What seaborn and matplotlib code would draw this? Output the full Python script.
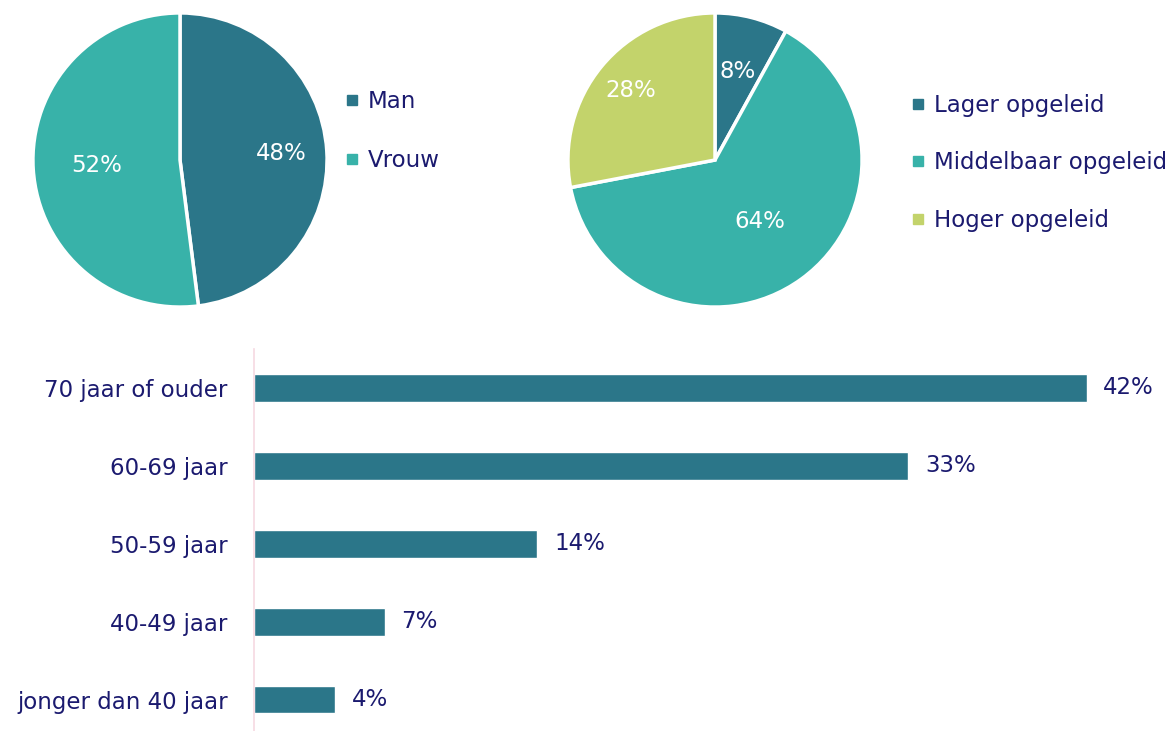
import numpy as np
import pandas as pd
import seaborn as sns
import matplotlib.pyplot as plt
from matplotlib.lines import Line2D

# data
gender_labels = ['Man', 'Vrouw']
gender_values = [48, 52]

edu_labels = ['Lager opgeleid', 'Middelbaar opgeleid', 'Hoger opgeleid']
edu_values = [8, 64, 28]

age_labels = ['70 jaar of ouder', '60-69 jaar', '50-59 jaar', '40-49 jaar', 'jonger dan 40 jaar']
age_values = [42, 33, 14.3, 6.6, 4.1]

dark = '#2b7689'
teal = '#38b2a9'
green = '#c3d36b'
navy = '#1b1a6f'
FS = 16.5

sns.set_theme(style='white')
plt.rcParams['font.family'] = ['DejaVu Sans']
plt.rcParams['font.size'] = FS

W, H = 1173, 731
fig = plt.figure(figsize=(W / 100, H / 100), dpi=100)


def px_axes(x, y, w, h):
    return fig.add_axes([x / W, 1 - (y + h) / H, w / W, h / H])


def draw_pie(ax, values, colors, label_dist):
    wedges, _ = ax.pie(values, colors=colors, startangle=90, counterclock=False,
                       wedgeprops=dict(edgecolor='white', linewidth=2.5))
    # percentage labels inside the wedges, one radial distance per wedge
    for w, v, d in zip(wedges, values, label_dist):
        ang = np.deg2rad((w.theta1 + w.theta2) / 2)
        ax.text(d * np.cos(ang), d * np.sin(ang), f'{v}%', color='white',
                fontsize=FS, ha='center', va='center')
    ax.set_xlim(-1.02, 1.02)
    ax.set_ylim(-1.02, 1.02)
    ax.set_aspect('equal')


def add_legend(labels, colors, x, y, spacing):
    handles = [Line2D([], [], marker='s', linestyle='', color=c, markersize=6.5) for c in colors]
    fig.legend(handles, labels, loc='center left', bbox_to_anchor=(x / W, 1 - y / H),
               frameon=False, labelcolor=navy, fontsize=FS, handlelength=0.5,
               handletextpad=0.45, labelspacing=spacing, borderpad=0, borderaxespad=0)


# 1. Gender pie
ax1 = px_axes(30, 10, 300, 300)
draw_pie(ax1, gender_values, [dark, teal], [0.69, 0.57])
add_legend(gender_labels, [dark, teal], 346, 131, 1.6)

# 2. Education pie
ax2 = px_axes(565, 10, 300, 300)
draw_pie(ax2, edu_values, [dark, teal, green], [0.62, 0.52, 0.74])
add_legend(edu_labels, [dark, teal, green], 912, 163, 1.5)

# 3. Age bars
ax3 = px_axes(254, 349, 896, 382)
df = pd.DataFrame({'leeftijd': age_labels, 'aandeel': age_values})
sns.barplot(data=df, x='aandeel', y='leeftijd', color=dark, saturation=1,
            width=0.35, ax=ax3)
ax3.set_xlim(0, 45.2)
ax3.set_ylim(4.4, -0.5)
ax3.bar_label(ax3.containers[0], labels=[f'{v:.0f}%' for v in age_values],
              padding=12, color=navy, fontsize=FS)
ax3.set_xlabel('')
ax3.set_ylabel('')
ax3.set_xticks([])
ax3.tick_params(axis='y', length=0, pad=19, labelcolor=navy, labelsize=FS)
for s in ['top', 'right', 'bottom']:
    ax3.spines[s].set_visible(False)
ax3.spines['left'].set_color('#f6d9e2')
ax3.spines['left'].set_linewidth(1.2)

fig.savefig('out.png', dpi=100, facecolor='white')
